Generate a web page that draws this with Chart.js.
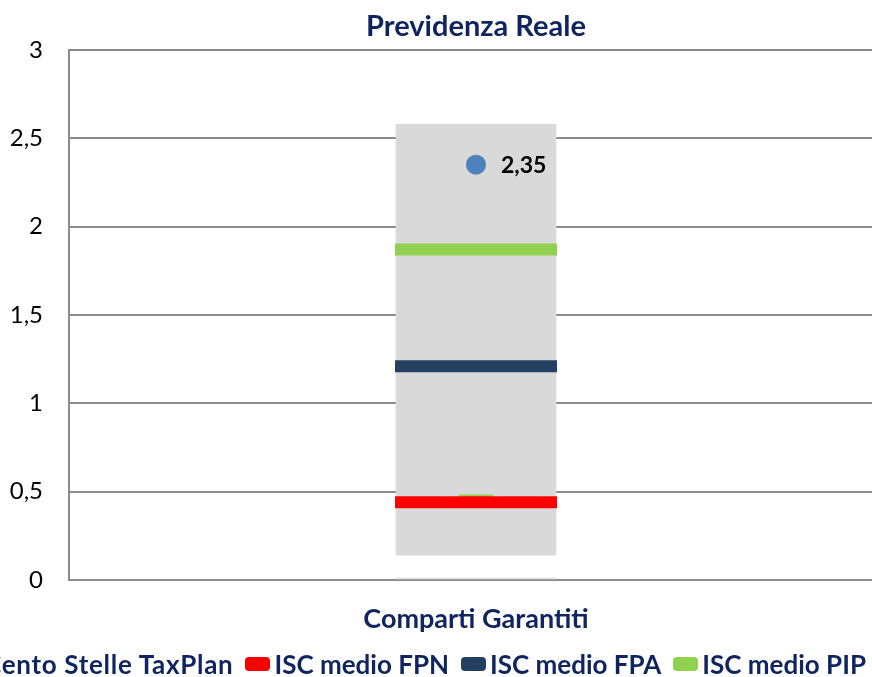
<!DOCTYPE html>
<html>
<head>
<meta charset="utf-8">
<script src="https://cdn.jsdelivr.net/npm/chart.js@4.4.0/dist/chart.umd.min.js"></script>
<style>
  body { margin: 0; overflow: hidden; background: #fff; }
  #wrap { position: relative; width: 872px; height: 677px; overflow: hidden; }
  #legend { position: absolute; top: 648px; left: -40px; white-space: nowrap; display: flex; align-items: center;
            font: bold 26px Lato; color: #10255f; }
  .item { display: flex; align-items: center; margin-right: 12px; }
  .item:first-child { letter-spacing: 0.7px; }
  .box { width: 25px; height: 14px; border-radius: 4px; margin-right: 4px; flex: none; }
</style>
</head>
<body>
<div id="wrap">
  <canvas id="chart" width="900" height="677"></canvas>
  <div id="legend"></div>
</div>
<script>
// valori
const categories = ['Comparti Garantiti'];
const rangeGaranz = [[0.14, 2.58]];
const rangeBase = [[0, 0.012]];
const iscTaxPlan = [2.35];
const iscFPN = [0.44];
const iscFPA = [1.21];
const iscPIP = [1.87];
const iscPIPmin = [0.45];
const yTicks = [0, 0.5, 1, 1.5, 2, 2.5, 3];

const navy = '#10255f';
const comma = v => String(v).replace('.', ',');

function marker(label, data, color, len, order) {
  return {
    type: 'line', label: label, data: data, showLine: false,
    pointStyle: 'line', pointRadius: len, pointHoverRadius: len,
    pointBorderWidth: 12, borderColor: color, backgroundColor: color,
    order: order
  };
}

let datasets = [
  {
    type: 'line', label: 'Cento Stelle TaxPlan', data: iscTaxPlan, showLine: false,
    pointStyle: 'circle', pointRadius: 10, pointHoverRadius: 10, pointBorderWidth: 0,
    backgroundColor: '#4f81bd', borderColor: '#4f81bd', order: 0
  },
  marker('ISC medio FPN', iscFPN, '#ff0000', 81, 1),
  marker('ISC medio FPA', iscFPA, '#243f60', 81, 2),
  marker('ISC medio PIP', iscPIP, '#92d050', 81, 3),
  Object.assign(marker('', iscPIPmin, '#92d050', 17, 4), { hideLegend: true }),
  {
    type: 'bar', label: '', data: rangeGaranz, backgroundColor: '#d9d9d9',
    barThickness: 160, grouped: false, order: 10, hideLegend: true
  },
  {
    type: 'bar', label: '', data: rangeBase, backgroundColor: '#e3e3e3',
    barThickness: 160, grouped: false, order: 11, hideLegend: true
  }
];

// etichetta del punto blu
const pointLabel = {
  id: 'pointLabel',
  afterDatasetsDraw(chart) {
    const ctx = chart.ctx;
    chart.getDatasetMeta(0).data.forEach((pt, i) => {
      ctx.save();
      ctx.font = 'bold 23px Lato';
      ctx.fillStyle = '#000';
      ctx.textBaseline = 'middle';
      ctx.fillText(comma(iscTaxPlan[i]), pt.x + 25, pt.y + 1);
      ctx.restore();
    });
  }
};

let chart = new Chart(document.getElementById('chart'), {
  type: 'bar',
  data: { labels: categories, datasets: datasets },
  options: {
    responsive: false,
    animation: false,
    layout: { autoPadding: false, padding: { left: 10, right: 17, top: 0, bottom: 42 } },
    plugins: {
      legend: { display: false },
      tooltip: { enabled: false },
      title: {
        display: true, text: 'Previdenza Reale', color: navy, fullSize: false,
        font: { family: 'Lato', size: 29, weight: 'bold' },
        padding: { top: 9, bottom: 6 }
      }
    },
    scales: {
      x: {
        grid: { display: false, drawTicks: false },
        border: { display: false },
        ticks: { color: navy, padding: 23, font: { family: 'Lato', size: 27, weight: 'bold' } },
        afterFit: s => { s.paddingLeft = 0; s.paddingRight = 0; s.height = 55; }
      },
      y: {
        min: 0, max: 3,
        afterBuildTicks: s => { s.ticks = yTicks.map(v => ({ value: v })); },
        grid: { color: '#8c8c8c', lineWidth: 2, drawTicks: false },
        border: { color: '#8c8c8c', width: 2 },
        ticks: { color: '#000', padding: 26, font: { family: 'Lato', size: 24 }, callback: v => comma(v) },
        afterFit: s => { s.width = 59; }
      }
    }
  },
  plugins: [pointLabel]
});

// legenda html (esce dai bordi come nell'originale)
let legend = document.getElementById('legend');
chart.data.datasets.forEach(ds => {
  if (ds.hideLegend) return;
  let item = document.createElement('div');
  item.className = 'item';
  let box = document.createElement('span');
  box.className = 'box';
  box.style.background = ds.backgroundColor;
  if (ds.pointStyle === 'circle') { box.style.width = '20px'; box.style.height = '20px'; box.style.borderRadius = '50%'; }
  item.appendChild(box);
  item.appendChild(document.createTextNode(ds.label));
  legend.appendChild(item);
});
</script>
</body>
</html>
